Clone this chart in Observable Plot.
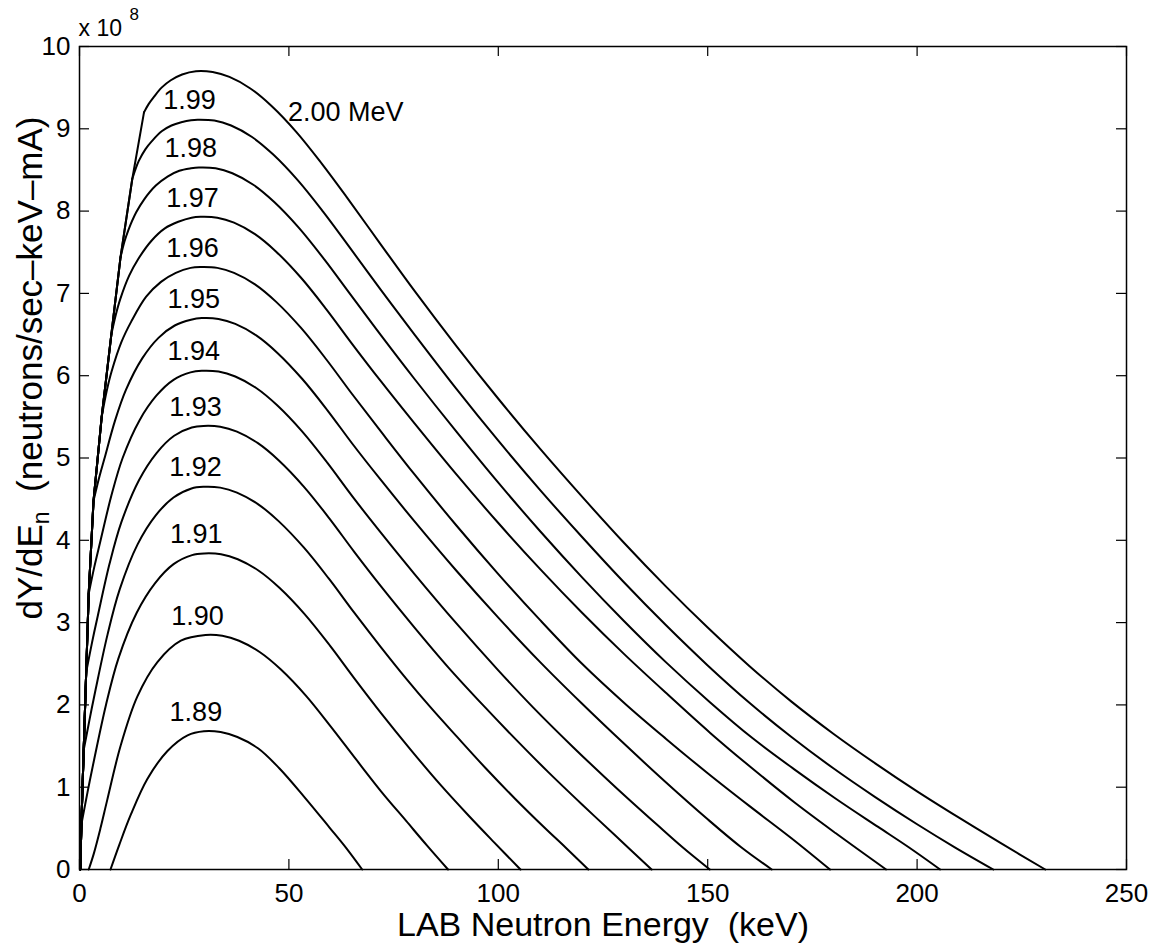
<!DOCTYPE html>
<html><head><meta charset="utf-8">
<script src="https://cdn.jsdelivr.net/npm/d3@7"></script>
<script src="https://cdn.jsdelivr.net/npm/@observablehq/plot@0.6"></script>
<style>
html,body{margin:0;padding:0;background:#fff;}
#chart svg{display:block;}
</style></head><body><div id="chart"></div>
<script>
// Proton energies (MeV) labelling the curves
const energies = ["1.89","1.90","1.91","1.92","1.93","1.94","1.95","1.96","1.97","1.98","1.99","2.00"];
const xTicks = [0, 50, 100, 150, 200, 250];
const yTicks = [0, 1, 2, 3, 4, 5, 6, 7, 8, 9, 10];

// Common steep left edge shared by the 1.91 - 2.00 MeV curves (keV, x1e8)
const envelope = [[0.2,0],[0.45,0.55],[1.0,1.45],[1.6,2.4],[2.2,3.35],[3.35,4.48],[5.3,5.5],[7.6,6.5],[9.8,7.44],[12.6,8.39],[15.4,9.2]];
// Index in the envelope where each curve leaves it (-1: curve has its own start)
const envelopeJoin = {"1.89":-1,"1.90":-1,"1.91":1,"1.92":2,"1.93":3,"1.94":4,"1.95":5,"1.96":6,"1.97":7,"1.98":8,"1.99":9,"2.00":10};

const c189 = [[7.4,0],[9.5,0.30],[12.2,0.66],[16.2,1.10],[21,1.44],[25.8,1.63],[29.7,1.68],[33.7,1.67],[37.7,1.61],[42.7,1.47],[47.7,1.23],[53.7,0.88],[59.7,0.51],[63.7,0.26],[67.5,0]];
const c190 = [[2.2,0],[3.4,0.19],[5.0,0.50],[6.6,0.84],[9.8,1.50],[13.8,2.10],[18.6,2.52],[24.2,2.78],[30.1,2.85],[34.1,2.84],[38.1,2.78],[43.1,2.64],[48.1,2.43],[54.1,2.11],[60.1,1.73],[66,1.34],[72,0.95],[78,0.59],[83,0.29],[88,0]];
const c191 = [[0.45,0.55],[1.92,0.94],[3.39,1.31],[6.32,2.00],[9.26,2.56],[13.66,3.12],[18.06,3.48],[22.46,3.71],[26.87,3.82],[29.8,3.84],[33.8,3.83],[37.8,3.77],[42.8,3.63],[47.8,3.42],[53.8,3.10],[59.8,2.72],[65.8,2.31],[72,1.90],[79,1.46],[86,1.04],[93,0.65],[99,0.33],[105.3,0]];
const c192 = [[1.0,1.45],[2.43,1.83],[3.86,2.19],[6.72,2.86],[9.58,3.40],[13.87,3.95],[18.16,4.30],[22.45,4.52],[26.74,4.63],[29.6,4.65],[33.6,4.64],[37.6,4.58],[42.6,4.44],[47.6,4.23],[53.6,3.91],[59.6,3.53],[65.6,3.12],[72,2.70],[78,2.32],[84,1.96],[90,1.62],[97,1.23],[104,0.86],[111,0.51],[116,0.27],[121.5,0]];
const c193 = [[1.6,2.4],[3.0,2.76],[4.4,3.09],[7.2,3.72],[10.0,4.22],[14.2,4.73],[18.4,5.06],[22.6,5.27],[26.8,5.37],[29.6,5.39],[33.6,5.38],[37.6,5.32],[42.6,5.18],[47.6,4.97],[53.6,4.65],[59.6,4.27],[65.6,3.86],[72,3.44],[80,2.94],[88,2.46],[96.3,2.00],[104,1.59],[112,1.18],[120,0.79],[128,0.41],[136.6,0]];
const c194 = [[2.2,3.35],[3.55,3.68],[4.9,3.97],[7.6,4.54],[10.3,5.00],[14.35,5.46],[18.4,5.76],[22.45,5.95],[26.5,6.04],[29.2,6.06],[33.2,6.05],[37.2,5.99],[42.2,5.85],[47.2,5.64],[53.2,5.32],[59.2,4.94],[65.2,4.53],[72,4.09],[80,3.59],[90,2.99],[100,2.42],[108.3,1.97],[118,1.48],[128,1.00],[138,0.54],[144,0.27],[150.5,0]];
const c195 = [[3.35,4.48],[4.64,4.75],[5.94,4.99],[8.52,5.46],[11.11,5.83],[14.98,6.21],[18.86,6.46],[22.74,6.61],[26.62,6.68],[29.2,6.70],[33.2,6.69],[37.2,6.63],[42.2,6.49],[47.2,6.28],[53.2,5.96],[59.2,5.58],[65.2,5.17],[72,4.73],[80,4.23],[90,3.63],[100,3.06],[110,2.52],[119.9,2.02],[130,1.53],[140,1.06],[150,0.61],[158,0.27],[165.3,0]];
const c196 = [[5.3,5.5],[6.48,5.81],[7.66,6.05],[10.02,6.41],[12.38,6.66],[15.92,6.96],[19.46,7.14],[23.0,7.25],[26.54,7.31],[28.9,7.32],[32.9,7.31],[36.9,7.25],[41.9,7.11],[46.9,6.90],[52.9,6.58],[58.9,6.20],[64.9,5.79],[72,5.32],[80,4.80],[90,4.18],[100,3.59],[110,3.03],[120,2.50],[130.6,2.0],[140,1.59],[150,1.17],[160,0.77],[170,0.38],[179.2,0]];
const c197 = [[7.6,6.5],[8.67,6.74],[9.73,6.93],[11.86,7.215],[13.99,7.415],[17.19,7.64],[20.38,7.79],[23.58,7.87],[26.77,7.92],[28.9,7.93],[32.9,7.92],[36.9,7.86],[41.9,7.72],[46.9,7.51],[52.9,7.19],[58.9,6.81],[64.9,6.40],[72,5.93],[80,5.42],[90,4.80],[100,4.21],[110,3.65],[120,3.12],[130,2.62],[140.6,2.12],[150.6,1.66],[160.6,1.23],[170.6,0.82],[180.6,0.44],[192.6,0]];
const c198 = [[9.8,7.44],[10.74,7.63],[11.67,7.77],[13.54,7.985],[15.41,8.14],[18.22,8.31],[21.02,8.42],[23.83,8.49],[26.63,8.52],[28.5,8.53],[32.5,8.52],[36.5,8.46],[41.5,8.32],[46.5,8.11],[52.5,7.79],[58.5,7.41],[64.5,7.00],[72,6.49],[80,5.96],[90,5.32],[100,4.70],[110,4.11],[120,3.55],[130,3.02],[140,2.52],[150.6,2.03],[160.6,1.60],[170.6,1.22],[180.6,0.86],[190.6,0.52],[198,0.27],[205.5,0]];
const c199 = [[12.6,8.39],[13.38,8.51],[14.16,8.61],[15.72,8.75],[17.28,8.85],[19.62,8.97],[21.96,9.04],[24.3,9.08],[26.64,9.105],[28.2,9.11],[32.2,9.10],[36.2,9.04],[41.2,8.90],[46.2,8.69],[52.2,8.37],[58.2,7.99],[64.2,7.58],[72,7.04],[80,6.50],[90,5.84],[100,5.21],[110,4.61],[120,4.04],[130,3.49],[140,2.97],[150,2.48],[160.1,2.02],[170,1.61],[180,1.23],[190,0.88],[200,0.55],[209,0.27],[218.2,0]];
const c200 = [[15.4,9.2],[16.5,9.30],[17.8,9.39],[19.6,9.50],[21.8,9.59],[24.5,9.66],[27.8,9.70],[31.8,9.69],[35.8,9.63],[40.8,9.49],[45.8,9.28],[51.8,8.96],[57.8,8.58],[63.8,8.17],[72,7.59],[80,7.03],[90,6.36],[100,5.72],[110,5.11],[120,4.53],[130,3.97],[140,3.44],[150,2.94],[160,2.47],[170,2.04],[180,1.65],[190,1.29],[200,0.95],[210,0.63],[220,0.32],[230.6,0]];

const curves = {"1.89":c189,"1.90":c190,"1.91":c191,"1.92":c192,"1.93":c193,"1.94":c194,"1.95":c195,"1.96":c196,"1.97":c197,"1.98":c198,"1.99":c199,"2.00":c200};

// ---- build tables ----
const envRows = [], arcRows = [], peakRows = [];
for (const E of energies) {
  const j = envelopeJoin[E];
  if (j >= 0) envelope.slice(0, j + 1).forEach(([x, y]) => envRows.push({E, x, y}));
  curves[E].forEach(([x, y]) => arcRows.push({E, x, y}));
  const pk = curves[E].reduce((a, b) => (b[1] > a[1] ? b : a));
  peakRows.push({E, x: pk[0], y: pk[1]});
}
const labelRows = peakRows.filter(d => d.E !== "2.00");
const topRow = peakRows.filter(d => d.E === "2.00");

const W = 1159, H = 943, mt = 46, mr = 33, mb = 74, ml = 79;
const fw = W - ml - mr, fh = H - mt - mb;
const font = "'Liberation Sans', Arial, Helvetica, sans-serif";

const plot = Plot.plot({
  width: W, height: H,
  marginTop: mt, marginRight: mr, marginBottom: mb, marginLeft: ml,
  style: {fontFamily: font, background: "#fff", color: "#000"},
  x: {domain: [0, 250]},
  y: {domain: [0, 10]},
  marks: [
    Plot.frame({stroke: "#000", strokeWidth: 1.5}),
    Plot.tickX(xTicks, {x: d => d, insetTop: fh - 10, stroke: "#000", strokeWidth: 1.2}),
    Plot.tickX(xTicks, {x: d => d, insetBottom: fh - 10, stroke: "#000", strokeWidth: 1.2}),
    Plot.tickY(yTicks, {y: d => d, insetRight: fw - 10, stroke: "#000", strokeWidth: 1.2}),
    Plot.tickY(yTicks, {y: d => d, insetLeft: fw - 10, stroke: "#000", strokeWidth: 1.2}),
    Plot.axisX({ticks: xTicks, tickSize: 0, tickPadding: 14, fontSize: 26, label: null}),
    Plot.axisY({ticks: yTicks, tickSize: 0, tickPadding: 9, fontSize: 26, label: null}),
    Plot.line(envRows, {x: "x", y: "y", z: "E", stroke: "#000", strokeWidth: 2, curve: "linear"}),
    Plot.line(arcRows, {x: "x", y: "y", z: "E", stroke: "#000", strokeWidth: 2, curve: "catmull-rom"}),
    Plot.text(labelRows, {x: "x", y: "y", text: "E", dx: -8, dy: -19, fontSize: 27, fill: "#000"}),
    Plot.text(topRow, {x: "x", y: "y", text: d => d.E + " MeV", textAnchor: "start", dx: 92, dy: 41, fontSize: 27, fill: "#000"}),
    Plot.text(["x 10"], {frameAnchor: "top-left", textAnchor: "start", lineAnchor: "middle", dx: -1, dy: -18, fontSize: 23, fill: "#000"}),
    Plot.text(["8"], {frameAnchor: "top-left", textAnchor: "start", lineAnchor: "middle", dx: 50, dy: -32, fontSize: 17, fill: "#000"}),
    Plot.text(["LAB Neutron Energy\u00a0 (keV)"], {frameAnchor: "bottom", lineAnchor: "middle", dy: 56, fontSize: 34, fill: "#000"})
  ]
});

// y-axis title with subscript n
const svg = d3.select(plot);
const t = svg.append("text")
  .attr("transform", "translate(42,368) rotate(-90)")
  .attr("text-anchor", "middle")
  .attr("font-family", font)
  .attr("font-size", 35)
  .attr("fill", "#000");
t.append("tspan").text("dY/dE");
t.append("tspan").attr("font-size", 23).attr("dy", 7).text("n");
t.append("tspan").attr("dy", -7).text("\u00a0 (neutrons/sec\u2013keV\u2013mA)");

document.getElementById("chart").appendChild(plot);
</script>
</body></html>
